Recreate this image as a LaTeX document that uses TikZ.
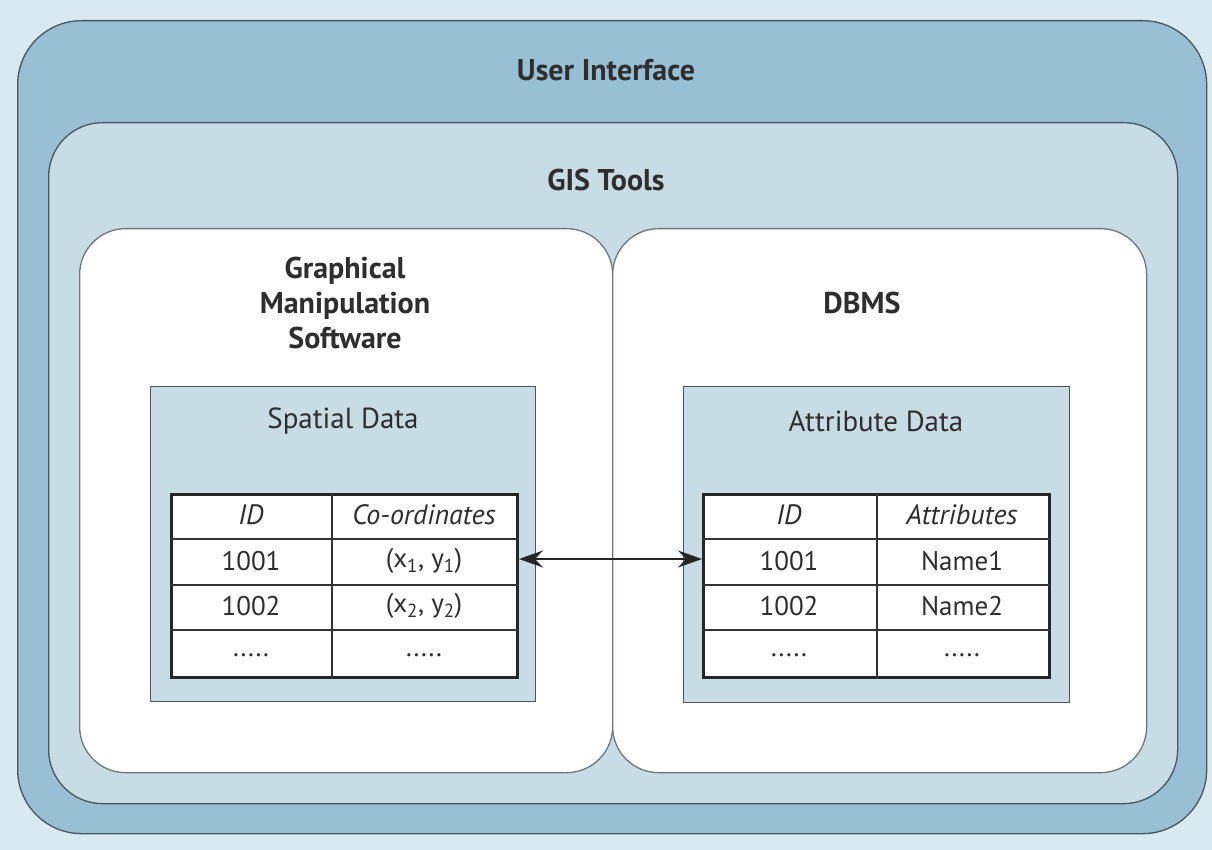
\documentclass[tikz,border=0pt]{standalone}
\usepackage{fontspec}
\setmainfont{PT Sans}
\usetikzlibrary{arrows.meta}
\definecolor{bgc}{HTML}{D9E9F1}
\definecolor{uic}{HTML}{98BFD3}
\definecolor{gisc}{HTML}{C8DCE5}
\definecolor{edgec}{HTML}{4A5560}
\definecolor{txtc}{HTML}{2E2E2E}
\begin{document}
\begin{tikzpicture}[x=1pt,y=-1pt,
  panel/.style={draw=edgec, line width=1.3pt, anchor=north west, inner sep=0pt},
  datab/.style={draw=edgec, line width=1.3pt, fill=gisc, anchor=north west, inner sep=0pt},
  tablebox/.style={draw=black!85, line width=3pt, fill=white, anchor=north west, inner sep=0pt},
  gridline/.style={draw=black!80, line width=1.4pt},
  title/.style={font=\fontsize{30}{35}\selectfont\bfseries, text=txtc, align=center},
  sub/.style={font=\fontsize{29}{34}\selectfont, text=txtc},
  cell/.style={font=\fontsize{27}{32}\selectfont, text=txtc},
  hcell/.style={font=\fontsize{28}{32}\selectfont\itshape, text=txtc},
  link/.style={{Stealth[length=24pt,width=17pt,inset=8pt]}-{Stealth[length=24pt,width=17pt,inset=8pt]}, line width=1.4pt, draw=black!85}
]
\useasboundingbox (0,0) rectangle (1212,850);
\fill[bgc] (0,0) rectangle (1212,850);
% outer
\node[panel, fill=uic, rounded corners=64pt, minimum width=1189pt, minimum height=813pt] (ui) at (17,20) {};
\node[panel, fill=gisc, rounded corners=54pt, minimum width=1129pt, minimum height=681pt] (gis) at (48,122) {};
\node[panel, draw=edgec!80, fill=white, rounded corners=46pt, minimum width=533pt, minimum height=544pt] (gms) at (79,228) {};
\node[panel, draw=edgec!80, fill=white, rounded corners=46pt, minimum width=534pt, minimum height=544pt] (dbms) at (612,228) {};
% titles
\node[title] (tui) at (606,70) {User Interface};
\node[title] (tgis) at (606,180) {GIS Tools};
\node[title] (tgms) at (345,303) {Graphical\\Manipulation\\Software};
\node[title] (tdbms) at (862,303) {DBMS};
% data boxes
\node[datab, minimum width=385pt, minimum height=315pt] (sd) at (150,386) {};
\node[datab, minimum width=386pt, minimum height=316pt] (ad) at (683,386) {};
\node[sub] (tsd) at (343,421) {Spatial Data};
\node[sub] (tad) at (876,421) {Attribute Data};
% tables
\node[tablebox, minimum width=346pt, minimum height=183pt] (lt) at (170,493) {};
\node[tablebox, minimum width=346pt, minimum height=183pt] (rt) at (702,493) {};
\foreach \yy in {539,585,630}{
  \draw[gridline] (lt.west |- 0,\yy) -- (lt.east |- 0,\yy);
  \draw[gridline] (rt.west |- 0,\yy) -- (rt.east |- 0,\yy);
}
\draw[gridline] (332,0 |- lt.north) -- (332,0 |- lt.south);
\draw[gridline] (877,0 |- rt.north) -- (877,0 |- rt.south);
% left table texts
\node[hcell] (l11) at (251,515) {ID};
\node[hcell] (l12) at (424,515) {Co-ordinates};
\node[cell] (l21) at (251,561) {1001};
\node[cell] (l22) at (424,561) {(x\textsubscript{1}, y\textsubscript{1})};
\node[cell] (l31) at (251,606) {1002};
\node[cell] (l32) at (424,606) {(x\textsubscript{2}, y\textsubscript{2})};
\node[cell] (l41) at (251,655) {.....};
\node[cell] (l42) at (424,655) {.....};
% right table texts
\node[hcell] (r11) at (789,515) {ID};
\node[hcell] (r12) at (962,515) {Attributes};
\node[cell] (r21) at (789,561) {1001};
\node[cell] (r22) at (962,561) {Name1};
\node[cell] (r31) at (789,606) {1002};
\node[cell] (r32) at (962,606) {Name2};
\node[cell] (r41) at (789,655) {.....};
\node[cell] (r42) at (962,655) {.....};
% arrow
\coordinate (ay) at (0,559);
\draw[link] (lt.east |- ay) -- (rt.west |- ay);
\end{tikzpicture}
\end{document}
